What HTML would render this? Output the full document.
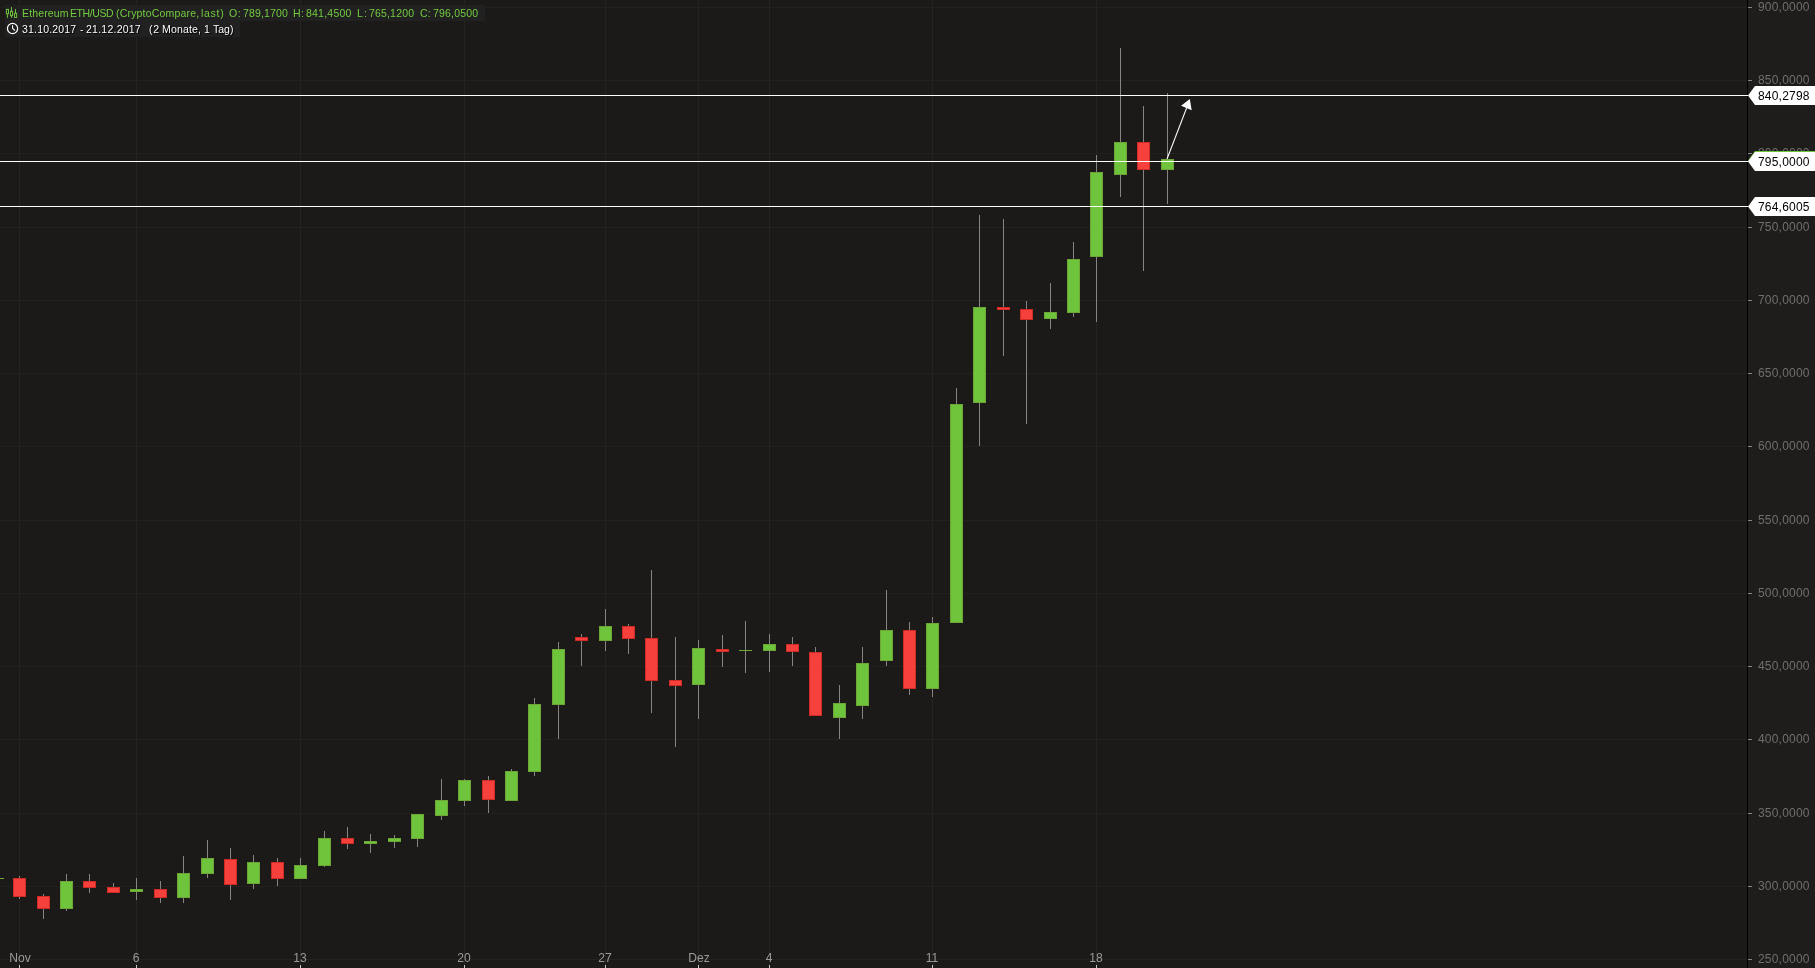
<!DOCTYPE html>
<html><head><meta charset="utf-8"><title>Ethereum ETH/USD</title>
<style>
html,body{margin:0;padding:0;background:#1b1a18;}
body{width:1815px;height:968px;overflow:hidden;position:relative;font-family:"Liberation Sans",sans-serif;}
#c,#o{position:absolute;left:0;top:0;}
.t{position:absolute;will-change:transform;white-space:nowrap;line-height:14px;font-size:12.4px;}
.yl{font-size:12px;letter-spacing:0.2px;color:#6f6f6f;left:1758.4px;}
.xl{font-size:12.1px;color:#9b9b9b;transform:translateX(-50%);top:951px;}
.pl{font-size:12px;letter-spacing:0.2px;color:#000;left:1758.4px;}
.h{position:absolute;left:5px;height:16px;background:#212121;}
.w2{color:#fff;text-shadow:0 0 1px #000,1px 1px 1px #000;}
.ht{position:absolute;will-change:transform;font-size:10.5px;line-height:16px;white-space:pre;}
</style></head><body>
<svg id="c" width="1815" height="968" viewBox="0 0 1815 968">
<rect x="0" y="0" width="1815" height="968" fill="#1b1a18"/>
<rect x="1748" y="0" width="67" height="968" fill="#1e1d1b"/>
<g shape-rendering="crispEdges">
<rect x="0" y="7" width="1747" height="1" fill="#222120"/>
<rect x="0" y="80" width="1747" height="1" fill="#222120"/>
<rect x="0" y="153" width="1747" height="1" fill="#222120"/>
<rect x="0" y="227" width="1747" height="1" fill="#222120"/>
<rect x="0" y="300" width="1747" height="1" fill="#222120"/>
<rect x="0" y="373" width="1747" height="1" fill="#222120"/>
<rect x="0" y="446" width="1747" height="1" fill="#222120"/>
<rect x="0" y="520" width="1747" height="1" fill="#222120"/>
<rect x="0" y="593" width="1747" height="1" fill="#222120"/>
<rect x="0" y="666" width="1747" height="1" fill="#222120"/>
<rect x="0" y="739" width="1747" height="1" fill="#222120"/>
<rect x="0" y="813" width="1747" height="1" fill="#222120"/>
<rect x="0" y="886" width="1747" height="1" fill="#222120"/>
<rect x="0" y="959" width="1747" height="1" fill="#222120"/>
<rect x="19" y="0" width="1" height="968" fill="#252423"/>
<rect x="136" y="0" width="1" height="968" fill="#252423"/>
<rect x="300" y="0" width="1" height="968" fill="#252423"/>
<rect x="464" y="0" width="1" height="968" fill="#252423"/>
<rect x="605" y="0" width="1" height="968" fill="#252423"/>
<rect x="698" y="0" width="1" height="968" fill="#252423"/>
<rect x="769" y="0" width="1" height="968" fill="#252423"/>
<rect x="932" y="0" width="1" height="968" fill="#252423"/>
<rect x="1096" y="0" width="1" height="968" fill="#252423"/>
<rect x="0" y="878" width="4" height="1" fill="#6da536"/>
<rect x="19" y="876" width="1" height="23" fill="#858585"/>
<rect x="13" y="878" width="13" height="19" fill="#cf2a26"/>
<rect x="14" y="879" width="11" height="17" fill="#f6403c"/>
<rect x="43" y="894" width="1" height="25" fill="#858585"/>
<rect x="37" y="896" width="13" height="13" fill="#cf2a26"/>
<rect x="38" y="897" width="11" height="11" fill="#f6403c"/>
<rect x="66" y="874" width="1" height="37" fill="#858585"/>
<rect x="60" y="881" width="13" height="28" fill="#6da536"/>
<rect x="61" y="882" width="11" height="26" fill="#6ec43b"/>
<rect x="89" y="874" width="1" height="19" fill="#858585"/>
<rect x="83" y="881" width="13" height="7" fill="#cf2a26"/>
<rect x="84" y="882" width="11" height="5" fill="#f6403c"/>
<rect x="113" y="883" width="1" height="10" fill="#858585"/>
<rect x="107" y="887" width="13" height="6" fill="#cf2a26"/>
<rect x="108" y="888" width="11" height="4" fill="#f6403c"/>
<rect x="136" y="878" width="1" height="22" fill="#858585"/>
<rect x="130" y="889" width="13" height="3" fill="#6da536"/>
<rect x="131" y="890" width="11" height="1" fill="#6ec43b"/>
<rect x="160" y="881" width="1" height="22" fill="#858585"/>
<rect x="154" y="889" width="13" height="9" fill="#cf2a26"/>
<rect x="155" y="890" width="11" height="7" fill="#f6403c"/>
<rect x="183" y="856" width="1" height="47" fill="#858585"/>
<rect x="177" y="873" width="13" height="25" fill="#6da536"/>
<rect x="178" y="874" width="11" height="23" fill="#6ec43b"/>
<rect x="207" y="840" width="1" height="38" fill="#858585"/>
<rect x="201" y="858" width="13" height="16" fill="#6da536"/>
<rect x="202" y="859" width="11" height="14" fill="#6ec43b"/>
<rect x="230" y="848" width="1" height="52" fill="#858585"/>
<rect x="224" y="859" width="13" height="26" fill="#cf2a26"/>
<rect x="225" y="860" width="11" height="24" fill="#f6403c"/>
<rect x="253" y="855" width="1" height="34" fill="#858585"/>
<rect x="247" y="862" width="13" height="22" fill="#6da536"/>
<rect x="248" y="863" width="11" height="20" fill="#6ec43b"/>
<rect x="277" y="858" width="1" height="28" fill="#858585"/>
<rect x="271" y="862" width="13" height="17" fill="#cf2a26"/>
<rect x="272" y="863" width="11" height="15" fill="#f6403c"/>
<rect x="300" y="858" width="1" height="21" fill="#858585"/>
<rect x="294" y="865" width="13" height="14" fill="#6da536"/>
<rect x="295" y="866" width="11" height="12" fill="#6ec43b"/>
<rect x="324" y="831" width="1" height="36" fill="#858585"/>
<rect x="318" y="838" width="13" height="28" fill="#6da536"/>
<rect x="319" y="839" width="11" height="26" fill="#6ec43b"/>
<rect x="347" y="827" width="1" height="22" fill="#858585"/>
<rect x="341" y="838" width="13" height="6" fill="#cf2a26"/>
<rect x="342" y="839" width="11" height="4" fill="#f6403c"/>
<rect x="370" y="834" width="1" height="19" fill="#858585"/>
<rect x="364" y="841" width="13" height="3" fill="#6da536"/>
<rect x="365" y="842" width="11" height="1" fill="#6ec43b"/>
<rect x="394" y="835" width="1" height="13" fill="#858585"/>
<rect x="388" y="838" width="13" height="4" fill="#6da536"/>
<rect x="389" y="839" width="11" height="2" fill="#6ec43b"/>
<rect x="417" y="814" width="1" height="33" fill="#858585"/>
<rect x="411" y="814" width="13" height="25" fill="#6da536"/>
<rect x="412" y="815" width="11" height="23" fill="#6ec43b"/>
<rect x="441" y="779" width="1" height="41" fill="#858585"/>
<rect x="435" y="800" width="13" height="16" fill="#6da536"/>
<rect x="436" y="801" width="11" height="14" fill="#6ec43b"/>
<rect x="464" y="779" width="1" height="27" fill="#858585"/>
<rect x="458" y="780" width="13" height="21" fill="#6da536"/>
<rect x="459" y="781" width="11" height="19" fill="#6ec43b"/>
<rect x="488" y="776" width="1" height="37" fill="#858585"/>
<rect x="482" y="780" width="13" height="20" fill="#cf2a26"/>
<rect x="483" y="781" width="11" height="18" fill="#f6403c"/>
<rect x="511" y="769" width="1" height="32" fill="#858585"/>
<rect x="505" y="771" width="13" height="30" fill="#6da536"/>
<rect x="506" y="772" width="11" height="28" fill="#6ec43b"/>
<rect x="534" y="698" width="1" height="78" fill="#858585"/>
<rect x="528" y="704" width="13" height="68" fill="#6da536"/>
<rect x="529" y="705" width="11" height="66" fill="#6ec43b"/>
<rect x="558" y="642" width="1" height="97" fill="#858585"/>
<rect x="552" y="649" width="13" height="56" fill="#6da536"/>
<rect x="553" y="650" width="11" height="54" fill="#6ec43b"/>
<rect x="581" y="634" width="1" height="32" fill="#858585"/>
<rect x="575" y="637" width="13" height="4" fill="#cf2a26"/>
<rect x="576" y="638" width="11" height="2" fill="#f6403c"/>
<rect x="605" y="609" width="1" height="42" fill="#858585"/>
<rect x="599" y="626" width="13" height="15" fill="#6da536"/>
<rect x="600" y="627" width="11" height="13" fill="#6ec43b"/>
<rect x="628" y="624" width="1" height="30" fill="#858585"/>
<rect x="622" y="626" width="13" height="13" fill="#cf2a26"/>
<rect x="623" y="627" width="11" height="11" fill="#f6403c"/>
<rect x="651" y="570" width="1" height="143" fill="#858585"/>
<rect x="645" y="638" width="13" height="43" fill="#cf2a26"/>
<rect x="646" y="639" width="11" height="41" fill="#f6403c"/>
<rect x="675" y="637" width="1" height="110" fill="#858585"/>
<rect x="669" y="680" width="13" height="6" fill="#cf2a26"/>
<rect x="670" y="681" width="11" height="4" fill="#f6403c"/>
<rect x="698" y="640" width="1" height="79" fill="#858585"/>
<rect x="692" y="648" width="13" height="37" fill="#6da536"/>
<rect x="693" y="649" width="11" height="35" fill="#6ec43b"/>
<rect x="722" y="635" width="1" height="32" fill="#858585"/>
<rect x="716" y="649" width="13" height="3" fill="#cf2a26"/>
<rect x="717" y="650" width="11" height="1" fill="#f6403c"/>
<rect x="745" y="621" width="1" height="52" fill="#858585"/>
<rect x="739" y="650" width="13" height="1" fill="#6da536"/>
<rect x="769" y="634" width="1" height="38" fill="#858585"/>
<rect x="763" y="644" width="13" height="7" fill="#6da536"/>
<rect x="764" y="645" width="11" height="5" fill="#6ec43b"/>
<rect x="792" y="637" width="1" height="29" fill="#858585"/>
<rect x="786" y="644" width="13" height="8" fill="#cf2a26"/>
<rect x="787" y="645" width="11" height="6" fill="#f6403c"/>
<rect x="815" y="647" width="1" height="69" fill="#858585"/>
<rect x="809" y="652" width="13" height="64" fill="#cf2a26"/>
<rect x="810" y="653" width="11" height="62" fill="#f6403c"/>
<rect x="839" y="685" width="1" height="54" fill="#858585"/>
<rect x="833" y="703" width="13" height="15" fill="#6da536"/>
<rect x="834" y="704" width="11" height="13" fill="#6ec43b"/>
<rect x="862" y="647" width="1" height="72" fill="#858585"/>
<rect x="856" y="663" width="13" height="43" fill="#6da536"/>
<rect x="857" y="664" width="11" height="41" fill="#6ec43b"/>
<rect x="886" y="590" width="1" height="76" fill="#858585"/>
<rect x="880" y="630" width="13" height="31" fill="#6da536"/>
<rect x="881" y="631" width="11" height="29" fill="#6ec43b"/>
<rect x="909" y="622" width="1" height="73" fill="#858585"/>
<rect x="903" y="630" width="13" height="59" fill="#cf2a26"/>
<rect x="904" y="631" width="11" height="57" fill="#f6403c"/>
<rect x="932" y="617" width="1" height="80" fill="#858585"/>
<rect x="926" y="623" width="13" height="66" fill="#6da536"/>
<rect x="927" y="624" width="11" height="64" fill="#6ec43b"/>
<rect x="956" y="388" width="1" height="235" fill="#858585"/>
<rect x="950" y="404" width="13" height="219" fill="#6da536"/>
<rect x="951" y="405" width="11" height="217" fill="#6ec43b"/>
<rect x="979" y="215" width="1" height="231" fill="#858585"/>
<rect x="973" y="307" width="13" height="96" fill="#6da536"/>
<rect x="974" y="308" width="11" height="94" fill="#6ec43b"/>
<rect x="1003" y="219" width="1" height="137" fill="#858585"/>
<rect x="997" y="307" width="13" height="3" fill="#cf2a26"/>
<rect x="998" y="308" width="11" height="1" fill="#f6403c"/>
<rect x="1026" y="301" width="1" height="123" fill="#858585"/>
<rect x="1020" y="309" width="13" height="11" fill="#cf2a26"/>
<rect x="1021" y="310" width="11" height="9" fill="#f6403c"/>
<rect x="1050" y="283" width="1" height="46" fill="#858585"/>
<rect x="1044" y="312" width="13" height="7" fill="#6da536"/>
<rect x="1045" y="313" width="11" height="5" fill="#6ec43b"/>
<rect x="1073" y="242" width="1" height="75" fill="#858585"/>
<rect x="1067" y="259" width="13" height="54" fill="#6da536"/>
<rect x="1068" y="260" width="11" height="52" fill="#6ec43b"/>
<rect x="1096" y="155" width="1" height="167" fill="#858585"/>
<rect x="1090" y="172" width="13" height="85" fill="#6da536"/>
<rect x="1091" y="173" width="11" height="83" fill="#6ec43b"/>
<rect x="1120" y="48" width="1" height="149" fill="#858585"/>
<rect x="1114" y="142" width="13" height="33" fill="#6da536"/>
<rect x="1115" y="143" width="11" height="31" fill="#6ec43b"/>
<rect x="1143" y="106" width="1" height="165" fill="#858585"/>
<rect x="1137" y="142" width="13" height="28" fill="#cf2a26"/>
<rect x="1138" y="143" width="11" height="26" fill="#f6403c"/>
<rect x="1167" y="93" width="1" height="111" fill="#858585"/>
<rect x="1161" y="159" width="13" height="11" fill="#6da536"/>
<rect x="1162" y="160" width="11" height="9" fill="#6ec43b"/>
<rect x="1747" y="0" width="1" height="968" fill="#000"/>
<rect x="1748" y="7" width="4" height="1" fill="#868686"/>
<rect x="1748" y="80" width="4" height="1" fill="#868686"/>
<rect x="1748" y="153" width="4" height="1" fill="#868686"/>
<rect x="1748" y="227" width="4" height="1" fill="#868686"/>
<rect x="1748" y="300" width="4" height="1" fill="#868686"/>
<rect x="1748" y="373" width="4" height="1" fill="#868686"/>
<rect x="1748" y="446" width="4" height="1" fill="#868686"/>
<rect x="1748" y="520" width="4" height="1" fill="#868686"/>
<rect x="1748" y="593" width="4" height="1" fill="#868686"/>
<rect x="1748" y="666" width="4" height="1" fill="#868686"/>
<rect x="1748" y="739" width="4" height="1" fill="#868686"/>
<rect x="1748" y="813" width="4" height="1" fill="#868686"/>
<rect x="1748" y="886" width="4" height="1" fill="#868686"/>
<rect x="1748" y="959" width="4" height="1" fill="#868686"/>
<rect x="19" y="965" width="1" height="3" fill="#c8c8c8"/>
<rect x="136" y="965" width="1" height="3" fill="#c8c8c8"/>
<rect x="300" y="965" width="1" height="3" fill="#c8c8c8"/>
<rect x="464" y="965" width="1" height="3" fill="#c8c8c8"/>
<rect x="605" y="965" width="1" height="3" fill="#c8c8c8"/>
<rect x="698" y="965" width="1" height="3" fill="#c8c8c8"/>
<rect x="769" y="965" width="1" height="3" fill="#c8c8c8"/>
<rect x="932" y="965" width="1" height="3" fill="#c8c8c8"/>
<rect x="1096" y="965" width="1" height="3" fill="#c8c8c8"/>
</g>
<rect x="5" y="5" width="480" height="16" fill="#222121"/>
<rect x="5" y="21" width="235" height="16" fill="#222121"/>
<g stroke="#6ec43b" stroke-width="1" fill="none">
<path d="M7.45 14.2 V17.8 M11.5 7.1 V11.3 M11.5 15.7 V17.8 M15.5 9.2 V13.2"/>
<rect x="6.4" y="9.4" width="2.1" height="4.4"/><rect x="10.45" y="11.35" width="2.1" height="4.3"/><rect x="14.45" y="13.3" width="2.2" height="4.1"/>
</g>
<circle cx="12.55" cy="28.5" r="5.1" fill="none" stroke="#fff" stroke-width="1.2"/>
<path d="M12.55 25.2 V28.3 L14.8 30.5" fill="none" stroke="#fff" stroke-width="1.1"/>
</svg>
<div class="ht" style="left:22.20px;top:5.4px;color:#72cc3e;letter-spacing:0.14px;">Ethereum</div>
<div class="ht" style="left:69.94px;top:5.4px;color:#72cc3e;letter-spacing:-0.40px;">ETH/USD</div>
<div class="ht" style="left:116.15px;top:5.4px;color:#72cc3e;letter-spacing:0.19px;">(CryptoCompare,</div>
<div class="ht" style="left:201.09px;top:5.4px;color:#72cc3e;letter-spacing:0.71px;">last)</div>
<div class="ht" style="left:228.80px;top:5.4px;color:#72cc3e;letter-spacing:0.57px;">O:</div>
<div class="ht" style="left:242.66px;top:5.4px;color:#72cc3e;letter-spacing:0.15px;">789,1700</div>
<div class="ht" style="left:292.94px;top:5.4px;color:#72cc3e;letter-spacing:0.52px;">H:</div>
<div class="ht" style="left:306.24px;top:5.4px;color:#72cc3e;letter-spacing:0.22px;">841,4500</div>
<div class="ht" style="left:356.74px;top:5.4px;color:#72cc3e;letter-spacing:1.10px;">L:</div>
<div class="ht" style="left:369.36px;top:5.4px;color:#72cc3e;letter-spacing:0.17px;">765,1200</div>
<div class="ht" style="left:420.47px;top:5.4px;color:#72cc3e;letter-spacing:0.09px;">C:</div>
<div class="ht" style="left:433.36px;top:5.4px;color:#72cc3e;letter-spacing:0.18px;">796,0500</div>
<div class="ht w2" style="left:22.36px;top:21.4px;letter-spacing:0.18px;">31.10.2017</div>
<div class="ht w2" style="left:79.53px;top:21.4px;letter-spacing:0.00px;">-</div>
<div class="ht w2" style="left:86.07px;top:21.4px;letter-spacing:0.24px;">21.12.2017</div>
<div class="ht w2" style="left:149.05px;top:21.4px;letter-spacing:0.84px;">(2</div>
<div class="ht w2" style="left:162.14px;top:21.4px;letter-spacing:0.18px;">Monate,</div>
<div class="ht w2" style="left:203.50px;top:21.4px;letter-spacing:0.00px;">1</div>
<div class="ht w2" style="left:213.16px;top:21.4px;letter-spacing:0.00px;">Tag)</div>
<div class="t yl" style="top:0px;">900,0000</div>
<div class="t yl" style="top:73px;">850,0000</div>
<div class="t yl" style="top:146px;">800,0000</div>
<div class="t yl" style="top:220px;">750,0000</div>
<div class="t yl" style="top:293px;">700,0000</div>
<div class="t yl" style="top:366px;">650,0000</div>
<div class="t yl" style="top:439px;">600,0000</div>
<div class="t yl" style="top:513px;">550,0000</div>
<div class="t yl" style="top:586px;">500,0000</div>
<div class="t yl" style="top:659px;">450,0000</div>
<div class="t yl" style="top:732px;">400,0000</div>
<div class="t yl" style="top:806px;">350,0000</div>
<div class="t yl" style="top:879px;">300,0000</div>
<div class="t yl" style="top:952px;">250,0000</div>
<div class="t xl" style="left:19.5px;">Nov</div>
<div class="t xl" style="left:136.0px;">6</div>
<div class="t xl" style="left:300.0px;">13</div>
<div class="t xl" style="left:464.0px;">20</div>
<div class="t xl" style="left:605.0px;">27</div>
<div class="t xl" style="left:698.5px;">Dez</div>
<div class="t xl" style="left:769.0px;">4</div>
<div class="t xl" style="left:932.0px;">11</div>
<div class="t xl" style="left:1096.0px;">18</div>
<svg id="o" width="1815" height="968" viewBox="0 0 1815 968">
<path d="M1748 160.5 L1755 151 L1816 151 L1816 170 L1755 170 Z" fill="#6ec43b"/>
<rect x="0" y="95" width="1748" height="1" fill="#fff" shape-rendering="crispEdges"/>
<path d="M1748 95.5 L1755 86 L1816 86 L1816 105 L1755 105 Z" fill="#fff"/>
<rect x="0" y="161" width="1748" height="1" fill="#fff" shape-rendering="crispEdges"/>
<path d="M1748 161.5 L1755 152 L1816 152 L1816 171 L1755 171 Z" fill="#fff"/>
<rect x="0" y="206" width="1748" height="1" fill="#fff" shape-rendering="crispEdges"/>
<path d="M1748 206.5 L1755 197 L1816 197 L1816 216 L1755 216 Z" fill="#fff"/>
<line x1="1167" y1="159" x2="1186.6" y2="108" stroke="#fff" stroke-width="1.05"/>
<path d="M1189.8 99.1 L1181.1 105.8 L1191.7 110.2 Z" fill="#fff"/>
</svg>
<div class="t pl" style="top:88.5px;">840,2798</div>
<div class="t pl" style="top:154.5px;">795,0000</div>
<div class="t pl" style="top:199.5px;">764,6005</div>
</body></html>
